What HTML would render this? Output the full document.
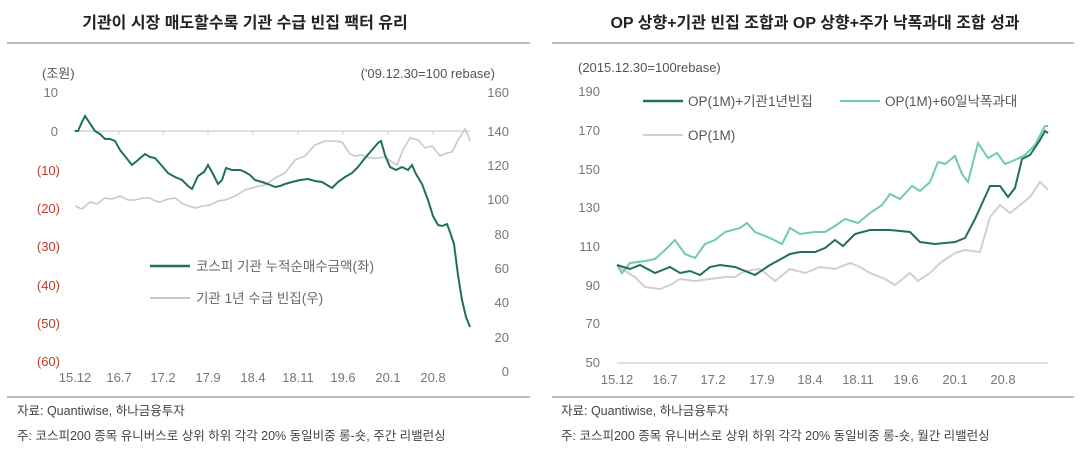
<!DOCTYPE html>
<html><head><meta charset="utf-8"><style>
body{margin:0;background:#fff;}
svg text{font-family:"Liberation Sans","Noto Sans CJK KR",sans-serif;}
</style></head><body>
<svg width="1082" height="453" viewBox="0 0 1082 453" xmlns="http://www.w3.org/2000/svg">
<rect width="1082" height="453" fill="#fff"/>
<!-- LEFT -->
<text x="245" y="28" font-size="16" font-weight="bold" text-anchor="middle" fill="#222">기관이 시장 매도할수록 기관 수급 빈집 팩터 유리</text>
<line x1="7" y1="43" x2="530" y2="43" stroke="#999" stroke-width="1.2"/>
<line x1="7" y1="397" x2="530" y2="397" stroke="#999" stroke-width="1.2"/>
<text x="42" y="78" font-size="13" fill="#555">(조원)</text>
<text x="495" y="78" font-size="13" fill="#555" text-anchor="end">('09.12.30=100 rebase)</text>
<g font-size="13" text-anchor="end">
<text x="58" y="97" fill="#777">10</text>
<text x="58" y="136" fill="#777">0</text>
<text x="60" y="175" fill="#c0392b">(10)</text>
<text x="60" y="213" fill="#c0392b">(20)</text>
<text x="60" y="251" fill="#c0392b">(30)</text>
<text x="60" y="290" fill="#c0392b">(40)</text>
<text x="60" y="328" fill="#c0392b">(50)</text>
<text x="60" y="366" fill="#c0392b">(60)</text>
</g>
<g font-size="13" fill="#777" text-anchor="end">
<text x="509" y="97">160</text><text x="509" y="136">140</text><text x="509" y="170">120</text>
<text x="509" y="204">100</text><text x="509" y="239">80</text><text x="509" y="273">60</text>
<text x="509" y="307">40</text><text x="509" y="342">20</text><text x="509" y="376">0</text>
</g>
<g font-size="13" fill="#777" text-anchor="middle">
<text x="75" y="382">15.12</text><text x="119" y="382">16.7</text><text x="163" y="382">17.2</text>
<text x="208" y="382">17.9</text><text x="253" y="382">18.4</text><text x="298" y="382">18.11</text>
<text x="343" y="382">19.6</text><text x="388" y="382">20.1</text><text x="433" y="382">20.8</text>
</g>
<line x1="73" y1="131" x2="470" y2="131" stroke="#ccc" stroke-width="1.2"/>
<g stroke="#ccc"><line x1="119" y1="131" x2="119" y2="135"/><line x1="163" y1="131" x2="163" y2="135"/><line x1="208" y1="131" x2="208" y2="135"/><line x1="253" y1="131" x2="253" y2="135"/><line x1="298" y1="131" x2="298" y2="135"/><line x1="343" y1="131" x2="343" y2="135"/><line x1="388" y1="131" x2="388" y2="135"/><line x1="433" y1="131" x2="433" y2="135"/></g>
<polyline fill="none" stroke="#c8c8c8" stroke-width="1.6" points="75,206 82,209 90,202 97,204 105,198 112,199 120,196 128,200 135,200 143,198 150,198 155,201 160,202 168,199 175,198 183,204 195,208 203,206 210,205 218,201 225,200 235,196 245,190 255,187 265,185 275,178 285,173 295,160 305,156 315,145 325,141 335,141 342,142 350,154 355,156 362,155 370,158 378,158 385,157 392,162 397,165 403,150 410,138 418,140 425,148 432,146 440,156 447,153 452,152 458,140 465,129 468,135 470,141"/>
<polyline fill="none" stroke="#1f6f5c" stroke-width="2" points="75,131 78,131 82,122 85,116 89,122 95,131 100,134 105,139 110,139 115,141 120,150 128,160 132,165 138,160 145,154 150,157 155,158 162,166 168,173 175,177 182,180 188,186 192,189 198,176 204,172 208,165 212,172 218,184 222,180 226,168 232,170 240,170 245,172 250,175 255,180 262,182 268,184 275,187 280,186 285,184 292,182 300,180 308,179 315,181 322,182 332,188 338,182 345,177 352,173 358,167 365,158 372,150 378,143 381,141 385,155 390,167 396,170 402,167 408,170 412,165 416,174 422,184 428,200 433,216 438,225 442,226 447,224 450,232 454,244 458,275 462,300 466,317 470,327"/>
<line x1="150" y1="266" x2="190" y2="266" stroke="#1f6f5c" stroke-width="2.5"/>
<text x="196" y="271" font-size="13.5" fill="#666">코스피 기관 누적순매수금액(좌)</text>
<line x1="150" y1="298" x2="190" y2="298" stroke="#c8c8c8" stroke-width="2"/>
<text x="196" y="303" font-size="13.5" fill="#666">기관 1년 수급 빈집(우)</text>
<text x="17" y="415" font-size="12.5" fill="#444">자료: Quantiwise, 하나금융투자</text>
<text x="17" y="440" font-size="12.5" fill="#444">주: 코스피200 종목 유니버스로 상위 하위 각각 20% 동일비중 롱-숏, 주간 리밸런싱</text>

<!-- RIGHT -->
<text x="815" y="28" font-size="16" font-weight="bold" text-anchor="middle" fill="#222">OP 상향+기관 빈집 조합과 OP 상향+주가 낙폭과대 조합 성과</text>
<line x1="552" y1="43" x2="1074" y2="43" stroke="#999" stroke-width="1.2"/>
<line x1="552" y1="397" x2="1074" y2="397" stroke="#999" stroke-width="1.2"/>
<text x="578" y="72" font-size="13" fill="#555">(2015.12.30=100rebase)</text>
<g font-size="13" fill="#777" text-anchor="end">
<text x="600" y="96">190</text><text x="600" y="135">170</text><text x="600" y="174">150</text>
<text x="600" y="212">130</text><text x="600" y="251">110</text><text x="600" y="290">90</text>
<text x="600" y="328">70</text><text x="600" y="367">50</text>
</g>
<g font-size="13" fill="#777" text-anchor="middle">
<text x="617" y="384">15.12</text><text x="665" y="384">16.7</text><text x="713" y="384">17.2</text>
<text x="762" y="384">17.9</text><text x="810" y="384">18.4</text><text x="858" y="384">18.11</text>
<text x="906" y="384">19.6</text><text x="955" y="384">20.1</text><text x="1003" y="384">20.8</text>
</g>
<line x1="617" y1="363" x2="1048" y2="363" stroke="#ccc" stroke-width="1.2"/>
<polyline fill="none" stroke="#d0d0d0" stroke-width="2" points="617,265 625,271 635,277 645,287 660,289 670,285 680,279 695,281 710,279 725,277 735,277 745,271 760,269 775,281 790,269 805,273 820,267 835,269 850,263 860,267 870,273 885,279 895,285 910,273 918,281 930,273 940,263 955,253 965,250 980,252 990,217 1000,205 1010,213 1020,205 1030,197 1040,182 1048,190"/>
<polyline fill="none" stroke="#6fcbb0" stroke-width="2" points="617,265 622,273 630,263 645,261 655,259 665,250 675,240 685,254 695,258 705,244 715,240 725,232 740,228 747,223 755,232 770,238 782,244 790,228 800,234 815,232 825,232 835,226 845,219 858,223 870,213 882,205 890,194 900,199 912,186 920,191 930,182 938,162 945,164 955,156 962,174 968,182 978,143 988,158 997,153 1005,164 1015,160 1025,155 1035,145 1045,126 1048,126"/>
<polyline fill="none" stroke="#1f6f5c" stroke-width="2" points="617,265 630,269 640,265 655,273 670,267 680,273 690,271 700,275 710,267 720,265 735,267 745,271 755,275 770,265 790,254 800,252 815,252 825,248 835,240 843,246 855,234 870,230 890,230 910,232 920,242 935,244 955,242 965,238 975,219 990,186 1000,186 1008,197 1015,188 1022,159 1030,155 1040,140 1045,131 1048,133"/>
<line x1="643" y1="101" x2="683" y2="101" stroke="#1f6f5c" stroke-width="2.5"/>
<text x="688" y="106" font-size="13.5" fill="#555">OP(1M)+기관1년빈집</text>
<line x1="840" y1="101" x2="880" y2="101" stroke="#6fcbb0" stroke-width="2"/>
<text x="885" y="106" font-size="13.5" fill="#555">OP(1M)+60일낙폭과대</text>
<line x1="643" y1="135" x2="683" y2="135" stroke="#d0d0d0" stroke-width="2"/>
<text x="688" y="140" font-size="13.5" fill="#555">OP(1M)</text>
<text x="561" y="415" font-size="12.5" fill="#444">자료: Quantiwise, 하나금융투자</text>
<text x="561" y="440" font-size="12.5" fill="#444">주: 코스피200 종목 유니버스로 상위 하위 각각 20% 동일비중 롱-숏, 월간 리밸런싱</text>
</svg>
</body></html>
